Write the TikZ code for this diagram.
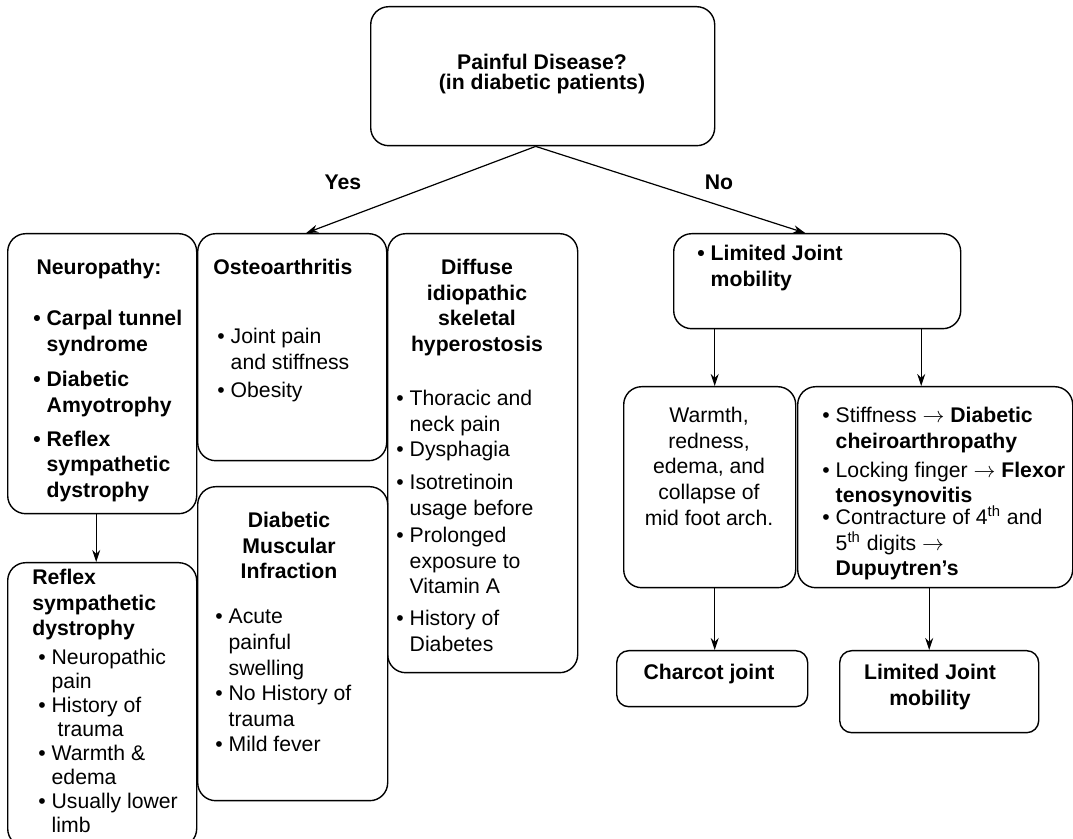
\documentclass[tikz,border=0pt]{standalone}
\usepackage{fontspec}
\setmainfont{Liberation Sans}
\usetikzlibrary{arrows.meta,positioning}

\newcommand{\bul}{\textbullet\ }
\newcommand{\ind}{\hphantom{\textbullet\ }}

\tikzset{
	box/.style={draw,rounded corners=9pt,line width=0.7pt,anchor=north west,inner sep=0pt},
	txt/.style={inner sep=0pt,font=\fontsize{10.6}{12.8}\selectfont,align=left,anchor=north west},
	btxt/.style={txt,font=\fontsize{10.6}{12.8}\selectfont\bfseries},
	head/.style={txt,font=\fontsize{10.6}{12.8}\selectfont\bfseries,align=center,anchor=north},
	arr/.style={-{Stealth[length=6pt,width=4pt]},line width=0.6pt}
}

\begin{document}
\begin{tikzpicture}[x=0.5pt,y=-0.5pt]
	\useasboundingbox (0,0) rectangle (1073,839);
	\clip (0,0) rectangle (1073,839);
	% boxes
	\node[box,minimum width=172pt,minimum height=69.5pt] (top) at (370,6) {};
	\node[box,minimum width=94.5pt,minimum height=140pt] (neuro) at (7,233) {};
	\node[box,minimum width=94.5pt,minimum height=113.5pt] (osteo) at (197,233) {};
	\node[box,minimum width=95pt,minimum height=219.5pt] (dish) at (387,233) {};
	\node[box,minimum width=95pt,minimum height=157pt] (dmi) at (197,486) {};
	\node[box,minimum width=94.5pt,minimum height=142pt] (reflex) at (7,562) {};
	\node[box,minimum width=143.5pt,minimum height=47.5pt] (ljm) at (673,233) {};
	\node[box,minimum width=86pt,minimum height=100.5pt] (warm) at (623,386) {};
	\node[box,minimum width=137.5pt,minimum height=100.5pt] (stiff) at (797,386) {};
	\node[box,rounded corners=6pt,minimum width=95.5pt,minimum height=28pt] (charcot) at (616,650) {};
	\node[box,rounded corners=6pt,minimum width=99.5pt,minimum height=41pt] (ljmb) at (839,650) {};

	% texts
	\node[head] (toptxt) at (542,54) {Painful Disease?\\[-2.8pt](in diabetic patients)};
	\node[head] (yes) at (343,175) {Yes};
	\node[head] (no) at (719,175) {No};
	\node[head] (neurohead) at (99,259) {Neuropathy:};
	\node[btxt] (neurolist) at (33,310) {\bul Carpal tunnel\\\ind syndrome\\[5pt]\bul Diabetic\\\ind Amyotrophy\\[4pt]\bul Reflex\\\ind sympathetic\\\ind dystrophy};
	\node[txt] (osteotxt) at (213,259) {\textbf{Osteoarthritis}\\[21.7pt]\hspace*{2pt}\bul Joint pain\\\hspace*{2pt}\ind and stiffness\\[1.5pt]\hspace*{2pt}\bul Obesity};
	\node[head] (dishhead) at (477,259) {Diffuse\\idiopathic\\skeletal\\hyperostosis};
	\node[txt] (dishlist) at (396,390) {\bul Thoracic and\\\ind neck pain\\\bul Dysphagia\\[3.5pt]\bul Isotretinoin\\\ind usage before\\[1pt]\bul Prolonged\\\ind exposure to\\\ind Vitamin A\\[3pt]\bul History of\\\ind Diabetes};
	\node[head] (dmihead) at (289,512) {Diabetic\\Muscular\\Infraction};
	\node[txt] (dmilist) at (215,609) {\bul Acute\\\ind painful\\\ind swelling\\\bul No History of\\\ind trauma\\\bul Mild fever};
	\node[btxt] (reflexhead) at (32,569) {Reflex\\sympathetic\\dystrophy};
	\node[txt,font=\fontsize{10.6}{12}\selectfont] (reflexlist) at (38,649) {\bul Neuropathic\\\ind pain\\\bul History of\\\ind\hspace*{3pt}trauma\\\bul Warmth \&\\\ind edema\\\bul Usually lower\\\ind limb};
	\node[btxt] (ljmtxt) at (697,245) {\bul Limited Joint\\\ind mobility};
	\node[txt,align=center,anchor=north] (warmtxt) at (709,407) {Warmth,\\redness,\\edema, and\\collapse of\\mid foot arch.};
	\node[txt] (stifftxt) at (822,407) {\bul Stiffness $\rightarrow$ \textbf{Diabetic}\\\ind\textbf{cheiroarthropathy}\\[1.7pt]\bul Locking finger $\rightarrow$ \textbf{Flexor}\\\ind\textbf{tenosynovitis}\\[-2pt]\bul Contracture of 4\textsuperscript{th} and\\\ind 5\textsuperscript{th} digits $\rightarrow$\\\ind\textbf{Dupuytren’s}};
	\node[head] (charcottxt) at (709,664) {Charcot joint};
	\node[head] (ljmbtxt) at (930,664) {Limited Joint\\mobility};

	% connectors
	\coordinate (split) at ([xshift=-3.5pt]top.south);
	\draw[arr] (split) -- ([xshift=7pt]osteo.north);
	\draw[arr] (split) -- ([xshift=-6pt]ljm.north);
	\draw[arr] ([xshift=-3pt]neuro.south) -- ([xshift=-3pt]reflex.north);
	\coordinate (w1) at ([xshift=2.5pt]warm.north);
	\coordinate (s1) at ([xshift=-7pt]stiff.north);
	\coordinate (s2) at ([xshift=-3pt]stiff.south);
	\draw[arr] (ljm.south -| w1) -- (w1);
	\draw[arr] (ljm.south -| s1) -- (s1);
	\draw[arr] (w1 |- warm.south) -- (w1 |- charcot.north);
	\draw[arr] (s2) -- (s2 |- ljmb.north);
\end{tikzpicture}
\end{document}
